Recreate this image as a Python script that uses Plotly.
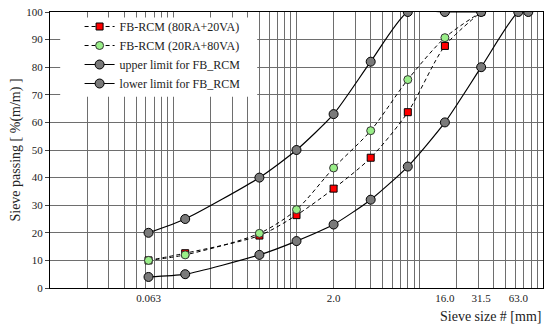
import plotly.graph_objects as go

sieve = [0.063, 0.125, 0.5, 1.0, 2.0, 4.0, 8.0, 16.0, 31.5]
fb_80ra = [10, 12.6, 19, 26.4, 36, 47.2, 63.7, 87.7, 100]
fb_20ra = [10, 12, 19.8, 28.4, 43.5, 57, 75.5, 90.7, 100]

upper_x = [0.063, 0.125, 0.5, 1.0, 2.0, 4.0, 8.0, 16.0, 31.5]
upper_y = [20, 25, 40, 50, 63, 82, 100, 100, 100]
lower_x = [0.063, 0.125, 0.5, 1.0, 2.0, 4.0, 8.0, 16.0, 31.5, 63.0, 76.0]
lower_y = [4, 5, 12, 17, 23, 32, 44, 60, 80, 100, 100]

tick_vals = [0.063, 2.0, 16.0, 31.5, 63.0]
tick_text = ["0.063", "2.0", "16.0", "31.5", "63.0"]
grid_vals = [m * 10 ** e for e in range(-2, 2) for m in range(1, 10)] + [100]

FONT = "Liberation Serif"
DASH = "4px,3px"

fig = go.Figure()
fig.add_trace(go.Scatter(
    x=sieve, y=fb_80ra, name="FB-RCM (80RA+20VA)", mode="lines+markers",
    line=dict(color="black", width=1, dash=DASH, shape="spline", smoothing=0.8),
    marker=dict(symbol="square", size=7, color="#ff0000", line=dict(color="black", width=1))))
fig.add_trace(go.Scatter(
    x=sieve, y=fb_20ra, name="FB-RCM (20RA+80VA)", mode="lines+markers",
    line=dict(color="black", width=1, dash=DASH, shape="spline", smoothing=0.8),
    marker=dict(symbol="circle", size=8, color="#99ee88", line=dict(color="#333333", width=1))))
fig.add_trace(go.Scatter(
    x=upper_x, y=upper_y, name="upper limit for FB_RCM", mode="lines+markers",
    line=dict(color="black", width=1.2, shape="spline", smoothing=0.6),
    marker=dict(symbol="circle", size=9, color="#7a7a7a", line=dict(color="black", width=1))))
fig.add_trace(go.Scatter(
    x=lower_x, y=lower_y, name="lower limit for FB_RCM", mode="lines+markers",
    line=dict(color="black", width=1.2, shape="spline", smoothing=0.6),
    marker=dict(symbol="circle", size=9, color="#7a7a7a", line=dict(color="black", width=1))))

# white box behind the legend (between gridlines and traces)
fig.add_shape(type="rect", xref="x", yref="y", x0=0.0121, x1=0.48, y0=69.3, y1=98,
              fillcolor="white", line=dict(width=0), layer="between")

fig.update_xaxes(
    type="log", range=[-2, 2], tickvals=tick_vals, ticktext=tick_text,
    showgrid=False, ticks="", showline=True, linecolor="black", linewidth=1.2, mirror=True,
    tickfont=dict(family=FONT, size=11, color="#222222"),
    minor=dict(tickvals=grid_vals, showgrid=True, gridcolor="#6e6e6e", gridwidth=1, ticks=""),
    zeroline=False)
fig.update_yaxes(
    range=[0, 100], dtick=10, showgrid=True, gridcolor="#6e6e6e", gridwidth=1,
    ticks="outside", ticklen=4, tickcolor="#444444",
    showline=True, linecolor="black", linewidth=1.2, mirror=True,
    tickfont=dict(family=FONT, size=11, color="#222222"),
    title=dict(text="Sieve passing [ %(m/m) ]", font=dict(family=FONT, size=14, color="#222222"),
               standoff=2),
    zeroline=False)

fig.add_annotation(text="Sieve size # [mm]", xref="paper", yref="paper", x=1.0, y=-0.068,
                   xanchor="right", yanchor="top", showarrow=False,
                   font=dict(family=FONT, size=14, color="#222222"))

fig.update_layout(
    width=550, height=328,
    margin=dict(l=50, r=6, t=9, b=40),
    paper_bgcolor="white", plot_bgcolor="white",
    showlegend=True,
    legend=dict(x=0.06, y=1.0, xanchor="left", yanchor="top", bgcolor="rgba(0,0,0,0)",
                font=dict(family=FONT, size=12, color="#222222"), itemwidth=30,
                tracegroupgap=0),
)

fig.write_html("out.html", config={"displayModeBar": False},
               post_script="document.body.style.margin='0';document.body.style.overflow='hidden';")
